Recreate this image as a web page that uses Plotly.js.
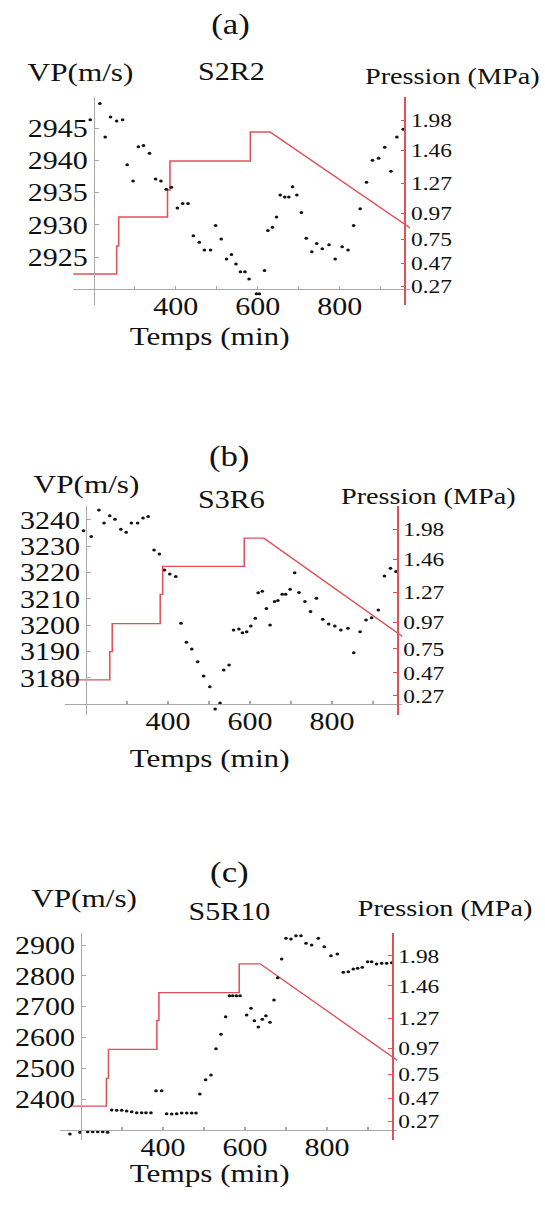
<!DOCTYPE html>
<html><head><meta charset="utf-8">
<script src="https://cdn.plot.ly/plotly-3.0.1.min.js"></script>
<style>
html,body{margin:0;padding:0;background:#fff;overflow:hidden;}
#wrap{width:545px;height:1207px;overflow:hidden;}
#chart{width:454px;height:1207px;transform:scaleX(1.20044);transform-origin:0 0;}
</style></head><body><div id="wrap"><div id="chart"></div></div>
<script>
// ---------- DATA ----------
// Panel (a) S2R2
const timeA = [191.5,215,228,241,256,270.5,281.6,296,309,321.5,336,351,364,377,389.5,404,417,430,443,457.5,470,485,497.5,511,524,536,547,558,569,579,597,604,616.5,625,636,646,655,666,676,685,695.5,706.6,718.5,732,744,757.6,774,789,806,820.5,834,850,865.5,880,895,909.8,925,939.5,955];
const vpA = [2946.3,2948.8,2943.6,2946.7,2946.1,2946.3,2939.3,2936.8,2942.1,2942.3,2941.1,2937.1,2936.8,2935.5,2935.8,2932.6,2933.3,2933.3,2928.3,2927.3,2926.1,2926.1,2929.9,2927.8,2924.7,2925.4,2923.9,2922.7,2922.7,2921.6,2919.3,2919.3,2922.9,2929.1,2929.6,2931.2,2934.6,2934.3,2934.3,2935.9,2934.6,2931.9,2927.9,2925.8,2927.1,2926.3,2926.9,2924.7,2926.6,2926.1,2929.9,2932.5,2936.6,2940.0,2940.3,2942.0,2938.3,2943.6,2944.8];
const presTimeA = [150,256,256,261,261,380,380,386,386,582,582,630,972];
const presLevelA = [3.1,3.1,5.9,5.9,8.8,8.8,11.5,11.5,14.4,14.4,17.3,17.3,7.7];

// Panel (b) S3R6
const timeB = [194,212.8,231.5,244,258,270.7,285,298,310.7,326,339,351.6,366,379,391.6,404.4,419,431.7,445,458,472.5,487,502,515,527,536,549,560,573,581.6,592,602,613,620,630,640,649,660,668,678.6,687,698,709,719.5,734,747.7,762,777.5,792,807,821.7,838.8,853,868.6,883,896.7,913,928,942.7,956];
const vpB = [3235.9,3233.7,3243.8,3238.8,3241.6,3240.3,3236.5,3235.3,3238.8,3238.8,3240.7,3241.3,3228.6,3227.1,3221.0,3219.5,3218.5,3200.8,3193.6,3191.0,3186.2,3180.8,3176.7,3168.2,3170.5,3183.0,3184.9,3198.2,3198.6,3197.2,3197.6,3199.7,3202.7,3212.4,3212.9,3206.4,3200.1,3209.0,3209.4,3211.8,3211.8,3213.7,3220.0,3212.5,3209.0,3205.2,3210.3,3202.3,3200.5,3199.7,3198.2,3198.9,3189.6,3197.6,3202.0,3202.9,3205.8,3218.7,3221.7,3220.4];
const presTimeB = [150,258,258,264,264,381,381,387,387,586,586,634,972];
const presLevelB = [3.5,3.5,6.3,6.3,9.1,9.1,12.0,12.0,14.8,14.8,17.6,17.6,7.8];

// Panel (c) S5R10
const timeC = [173,197.6,216.3,228.5,240.7,253,265,274.9,287,299.3,311.5,323.7,335.9,348,358.5,370.7,383,396.8,409,421.2,433.4,445.6,457.8,470,480.5,490,504,517,529.3,541.5,552.9,562,570,579,588,604,614.6,622.8,632.5,642.3,651,661,670.7,679.7,689.5,700,712.2,724.4,736.6,748.8,762.6,778.9,793.5,809.8,825.2,839.8,852,864.2,874.8,886,899.2,909,921,933.4,945.6,957.8];
const vpC = [2286.4,2291.9,2293.8,2293.8,2293.8,2293.8,2291.9,2364.3,2363.3,2363.3,2361,2358.8,2355.5,2355.5,2355.5,2355.5,2426.9,2426.9,2352.3,2351.3,2352.3,2354.5,2354.5,2354.5,2354.5,2416.2,2462.7,2477.9,2563.3,2610.1,2667.2,2735.4,2735.4,2735.4,2735.4,2672.7,2694.5,2654.2,2633.8,2658.8,2670.5,2649,2721.4,2793.8,2854.5,2921.8,2919.5,2930.2,2930.2,2905.5,2900,2921.8,2894.5,2865.3,2870.8,2811.4,2813.3,2822.1,2824.4,2827.6,2845.8,2845.8,2838.3,2840.6,2840.6,2842.5];
const presTimeC = [180,262,262,267,267,385,385,390,390,586,586,637,972];
const presLevelC = [3.4,3.4,6.2,6.2,9.1,9.1,12.0,12.0,14.8,14.8,17.7,17.7,8.0];

// Axis tick labels
const timeTickVals = [300,400,500,600,700,800,900];
const timeTickText = ['','400','','600','','800',''];
const vpTicksA = [2925,2930,2935,2940,2945];
const vpTicksB = [3180,3190,3200,3210,3220,3230,3240];
const vpTicksC = [2400,2500,2600,2700,2800,2900];
const pressionTickLevels = [1.9,4.2,6.6,9.2,12.2,15.5,18.5];
const pressionTickText = ['0.27','0.47','0.75','0.97','1.27','1.46','1.98'];
const panelLabels = ['(a)','(b)','(c)'];
const sampleNames = ['S2R2','S3R6','S5R10'];
const vpTitle = 'VP(m/s)';
const presTitle = 'Pression (MPa)';
const timeTitle = 'Temps (min)';

// ---------- LAYOUT GEOMETRY (reference pixels) ----------
const REFW = 545, REFH = 1207;
const fx = p => p / REFW;
const fy = p => 1 - p / REFH;
const FONT = 'Liberation Serif';
const GRAY = '#a8a8a8';
const RED = '#e2505a';
const timeRange = [150, 972];
const vpAxisTime = 200, presAxisTime = 958;
const presRange = [0, 20.8];

const panels = [
  {t:timeA, vp:vpA, pt:presTimeA, pl:presLevelA, vpRange:[2917.56,2949.81], vpOrigin:2920, vpTicks:vpTicksA,
   g:{left:73.2,right:410.2,top:97,bottom:305, panelX:231, panelY:24, vpX:80, vpY:72, sX:232, sY:71, pX:452, pY:76, tX:210, tY:336}},
  {t:timeB, vp:vpB, pt:presTimeB, pl:presLevelB, vpRange:[3165.95,3245.3], vpOrigin:3170, vpTicks:vpTicksB,
   g:{left:65.5,right:402.5,top:506,bottom:715, panelX:229, panelY:457, vpX:86, vpY:484, sX:232, sY:500, pX:428, pY:496, tX:210, tY:758}},
  {t:timeC, vp:vpC, pt:presTimeC, pl:presLevelC, vpRange:[2266.9,2939], vpOrigin:2300, vpTicks:vpTicksC,
   g:{left:60.5,right:397.5,top:933,bottom:1140, panelX:229, panelY:872, vpX:84, vpY:898, sX:229, sY:911, pX:445, pY:908, tX:209, tY:1173}}
];

const data = [];
const layout = {
  width: 454, height: 1207,
  margin:{l:0,r:0,t:0,b:0},
  paper_bgcolor:'#fff', plot_bgcolor:'rgba(0,0,0,0)',
  showlegend:false,
  font:{family:FONT, color:'#111'},
  annotations:[]
};

panels.forEach((p, i) => {
  const n = i + 1;
  const xa = n === 1 ? 'x' : 'x' + n;
  const presY = n === 1 ? 'y' : 'y' + n;       // base axis: pressure (right, red)
  const vpY = 'y' + (n + 3);                   // overlay axis: VP (left)
  const g = p.g;
  const xd = [fx(g.left), fx(g.right)];
  const yd = [fy(g.bottom), fy(g.top)];
  const xPos = t => xd[0] + (t - timeRange[0]) / (timeRange[1] - timeRange[0]) * (xd[1] - xd[0]);
  const yOriginFrac = yd[0] + (p.vpOrigin - p.vpRange[0]) / (p.vpRange[1] - p.vpRange[0]) * (yd[1] - yd[0]);

  layout['xaxis' + (n === 1 ? '' : n)] = {
    domain: xd, range: timeRange, anchor:'free', position: yOriginFrac,
    showline:true, linecolor:GRAY, linewidth:1, showgrid:false, zeroline:false,
    tickvals: timeTickVals, ticktext: timeTickText,
    ticks:'inside', ticklen:3, tickcolor:GRAY, ticklabelstandoff:-5,
    tickfont:{family:FONT, size:25, color:'#111'}, fixedrange:true
  };
  layout['yaxis' + (n === 1 ? '' : n)] = {
    domain: yd, range: presRange, anchor:'free', position: xPos(presAxisTime), side:'right',
    showline:true, linecolor:RED, linewidth:1.6, showgrid:false, zeroline:false,
    tickvals: pressionTickLevels, ticktext: pressionTickText,
    ticks:'inside', ticklen:3, tickcolor:RED,
    tickfont:{family:FONT, size:19.5, color:'#111'}, fixedrange:true
  };
  layout['yaxis' + (n + 3)] = {
    overlaying: presY, range: p.vpRange, anchor:'free', position: xPos(vpAxisTime), side:'left',
    showline:true, linecolor:GRAY, linewidth:1, showgrid:false, zeroline:false,
    tickvals: p.vpTicks, ticks:'inside', ticklen:3, tickcolor:GRAY,
    tickfont:{family:FONT, size:25, color:'#111'}, fixedrange:true
  };

  data.push({type:'scatter', mode:'lines', x:p.pt, y:p.pl, xaxis:xa, yaxis:presY,
             line:{color:RED, width:1.3}, hoverinfo:'skip'});
  data.push({type:'scatter', mode:'markers', x:p.t, y:p.vp, xaxis:xa, yaxis:vpY,
             marker:{size:3, color:'#111'}, cliponaxis:false, hoverinfo:'skip'});

  const ann = (text, x, y, size) => layout.annotations.push({
    text, xref:'paper', yref:'paper', x:fx(x), y:fy(y), xanchor:'center', yanchor:'middle',
    showarrow:false, font:{family:FONT, size, color:'#111'}
  });
  ann(panelLabels[i], g.panelX, g.panelY, 29);
  ann(vpTitle, g.vpX, g.vpY, 26);
  ann(sampleNames[i], g.sX, g.sY, 25);
  ann(presTitle, g.pX, g.pY, 23.5);
  ann(timeTitle, g.tX, g.tY, 26);
});

Plotly.newPlot('chart', data, layout, {staticPlot:true, displayModeBar:false});
</script>
</body></html>
